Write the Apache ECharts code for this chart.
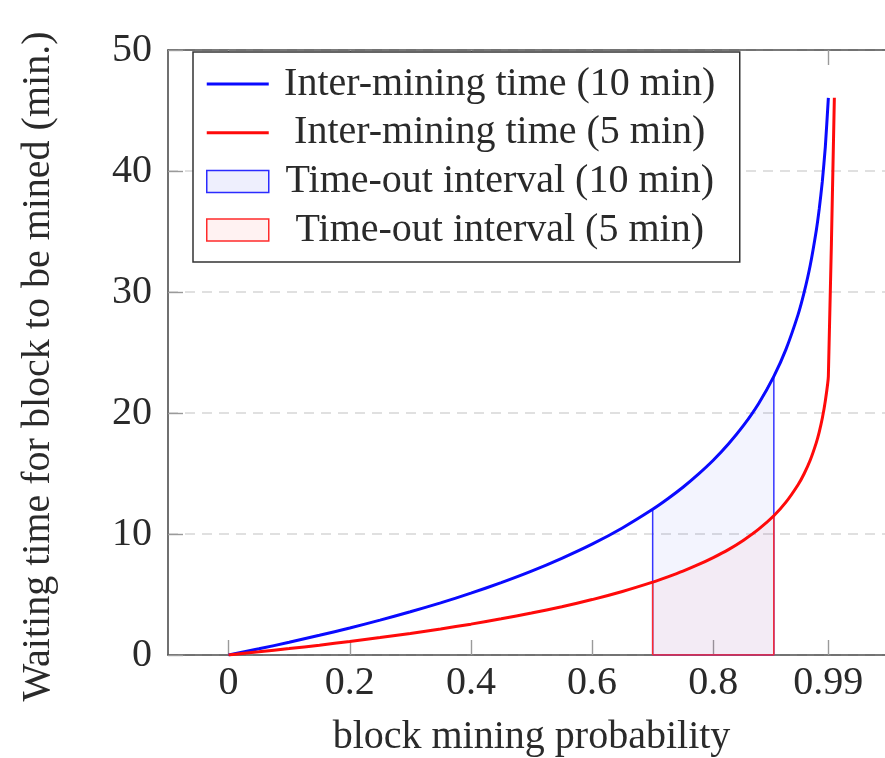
<!DOCTYPE html>
<html>
<head>
<meta charset="utf-8">
<script src="https://cdn.jsdelivr.net/npm/echarts@6/dist/echarts.min.js"></script>
<style>html,body{margin:0;padding:0;background:#fff}#c{width:885px;height:758px}</style>
</head>
<body>
<div id="c"></div>
<script>
// ---- data ----
const probabilities = [0, 0.05, 0.1, 0.15, 0.2, 0.25, 0.3, 0.35, 0.4, 0.45, 0.5, 0.55, 0.6, 0.65, 0.7, 0.725, 0.75, 0.775, 0.8, 0.825, 0.85, 0.875, 0.9, 0.92, 0.94, 0.95, 0.96, 0.97, 0.975, 0.98, 0.985, 0.99];
const waitTenMin  = [0, 0.51, 1.05, 1.63, 2.23, 2.88, 3.57, 4.31, 5.11, 5.98, 6.93, 7.99, 9.16, 10.50, 12.04, 12.91, 13.86, 14.92, 16.09, 17.43, 18.97, 20.79, 23.03, 25.26, 28.13, 29.96, 32.19, 35.07, 36.89, 39.12, 42.00, 46.05];
const waitFiveMin = [0, 0.26, 0.53, 0.81, 1.12, 1.44, 1.78, 2.15, 2.55, 2.99, 3.47, 3.99, 4.58, 5.25, 6.02, 6.46, 6.93, 7.46, 8.05, 8.71, 9.49, 10.40, 11.51, 12.63, 14.07, 14.98, 16.09, 17.53, 18.44, 19.56, 21.00, 23.03];
const fiveMinTailProb = [0.9999];
const fiveMinTailWait = [46.05];
const intervalBounds = [0.7, 0.9];
const xTickValues = [0, 0.2, 0.4, 0.6, 0.8, 0.99];
const xTickLabels = ['0', '0.2', '0.4', '0.6', '0.8', '0.99'];
const yTickValues = [0, 10, 20, 30, 40, 50];
const seriesNames = ['Inter-mining time (10 min)', 'Inter-mining time (5 min)', 'Time-out interval (10 min)', 'Time-out interval (5 min)'];
const axisNames = ['block mining probability', 'Waiting time for block to be mined (min.)'];

// ---- helpers ----
function pairs(xs, ys) { return xs.map((x, i) => [x, ys[i]]); }
function intervalOutline(xs, ys) {
  const [a, b] = intervalBounds;
  const pts = [[a, 0]];
  xs.forEach((x, i) => { if (x >= a - 1e-9 && x <= b + 1e-9) pts.push([x, ys[i]]); });
  pts.push([b, 0]);
  pts.push([a, 0]);
  return pts;
}

const FONT = '"Liberation Serif", "DejaVu Serif", serif';
const FS = 40;
const TXT = '#2a2a2a';
const LINE_ICON = 'path://M0,0H62V3H0Z';
const chart = echarts.init(document.getElementById('c'), null, { renderer: 'canvas' });

const tickLabelMap = {};
xTickValues.forEach((v, i) => { tickLabelMap[v] = xTickLabels[i]; });

const option = {
  animation: false,
  backgroundColor: '#fff',
  grid: { left: 168, top: 50, right: -10, bottom: 103, containLabel: false, outerBoundsMode: 'none' },
  legend: {
    orient: 'vertical',
    left: 193, top: 52,
    padding: [12, 14, 12, 13],
    itemGap: 8.7,
    itemWidth: 62,
    itemHeight: 22,
    symbolKeepAspect: true,
    borderColor: '#333',
    borderWidth: 1.5,
    backgroundColor: '#fff',
    formatter: '{t|{name}}',
    textStyle: {
      fontFamily: FONT, fontSize: FS, color: TXT, lineHeight: 40,
      rich: { t: { width: 452, align: 'center', fontFamily: FONT, fontSize: FS, color: TXT, lineHeight: 40 } }
    },
    data: [
      { name: seriesNames[0], icon: LINE_ICON, itemStyle: { color: '#0a0aff', borderWidth: 0 } },
      { name: seriesNames[1], icon: LINE_ICON, itemStyle: { color: '#ff0a0a', borderWidth: 0 } },
      { name: seriesNames[2], icon: 'rect', itemStyle: { color: 'rgba(40,50,230,0.08)', borderColor: '#2b2bff', borderWidth: 1.5 } },
      { name: seriesNames[3], icon: 'rect', itemStyle: { color: 'rgba(255,40,40,0.06)', borderColor: '#ff2b2b', borderWidth: 1.5 } }
    ]
  },
  xAxis: [{
    type: 'value', position: 'bottom',
    min: -0.1, max: 1.1,
    name: axisNames[0], nameLocation: 'middle', nameGap: 62,
    nameTextStyle: { fontFamily: FONT, fontSize: FS, color: TXT },
    axisLine: { show: true, onZero: false, lineStyle: { color: '#4d4d4d', width: 1.6 } },
    axisTick: { show: true, inside: true, length: 15, customValues: xTickValues, lineStyle: { color: '#9a9a9a', width: 1.4 } },
    axisLabel: { show: true, margin: 8, customValues: xTickValues, formatter: v => tickLabelMap[v] !== undefined ? tickLabelMap[v] : '', fontFamily: FONT, fontSize: FS, color: TXT },
    splitLine: { show: false }
  }, {
    type: 'value', position: 'top',
    min: -0.1, max: 1.1,
    axisLine: { show: true, onZero: false, lineStyle: { color: '#4d4d4d', width: 1.6 } },
    axisTick: { show: true, inside: true, length: 15, customValues: xTickValues, lineStyle: { color: '#9a9a9a', width: 1.4 } },
    axisLabel: { show: false },
    splitLine: { show: false }
  }],
  yAxis: {
    type: 'value', min: 0, max: 50, interval: 10,
    name: axisNames[1], nameLocation: 'middle', nameGap: 110, nameRotate: 90,
    nameTextStyle: { fontFamily: FONT, fontSize: FS, color: TXT, padding: [0, 28, 0, 0] },
    axisLine: { show: true, onZero: false, lineStyle: { color: '#4d4d4d', width: 1.6 } },
    axisTick: { show: true, inside: true, length: 15, lineStyle: { color: '#9a9a9a', width: 1.4 } },
    axisLabel: { margin: 16, fontFamily: FONT, fontSize: FS, color: TXT, customValues: yTickValues },
    splitLine: { show: true, lineStyle: { color: '#d6d6d6', width: 1.6, type: [10, 7] } }
  },
  series: [
    {
      name: seriesNames[2], type: 'line', xAxisIndex: 0, z: 2,
      data: intervalOutline(probabilities, waitTenMin),
      symbol: 'none', smooth: false,
      lineStyle: { color: '#3535ff', width: 1.5 },
      itemStyle: { color: '#3535ff' },
      areaStyle: { color: 'rgba(40,50,230,0.08)', origin: 0 }
    },
    {
      name: seriesNames[3], type: 'line', xAxisIndex: 0, z: 3,
      data: intervalOutline(probabilities, waitFiveMin),
      symbol: 'none', smooth: false,
      lineStyle: { color: '#ff2b2b', width: 1.5 },
      itemStyle: { color: '#ff2b2b' },
      areaStyle: { color: 'rgba(255,40,40,0.06)', origin: 0 }
    },
    {
      name: seriesNames[0], type: 'line', xAxisIndex: 0, z: 4,
      data: pairs(probabilities, waitTenMin),
      symbol: 'none', smooth: 0.2,
      lineStyle: { color: '#0a0aff', width: 3 },
      itemStyle: { color: '#0a0aff' }
    },
    {
      name: seriesNames[1], type: 'line', xAxisIndex: 0, z: 5,
      data: pairs(probabilities, waitFiveMin).concat(pairs(fiveMinTailProb, fiveMinTailWait)),
      symbol: 'none', smooth: 0.2,
      lineStyle: { color: '#ff0a0a', width: 3 },
      itemStyle: { color: '#ff0a0a' }
    }
  ]
};
chart.setOption(option);
</script>
</body>
</html>
